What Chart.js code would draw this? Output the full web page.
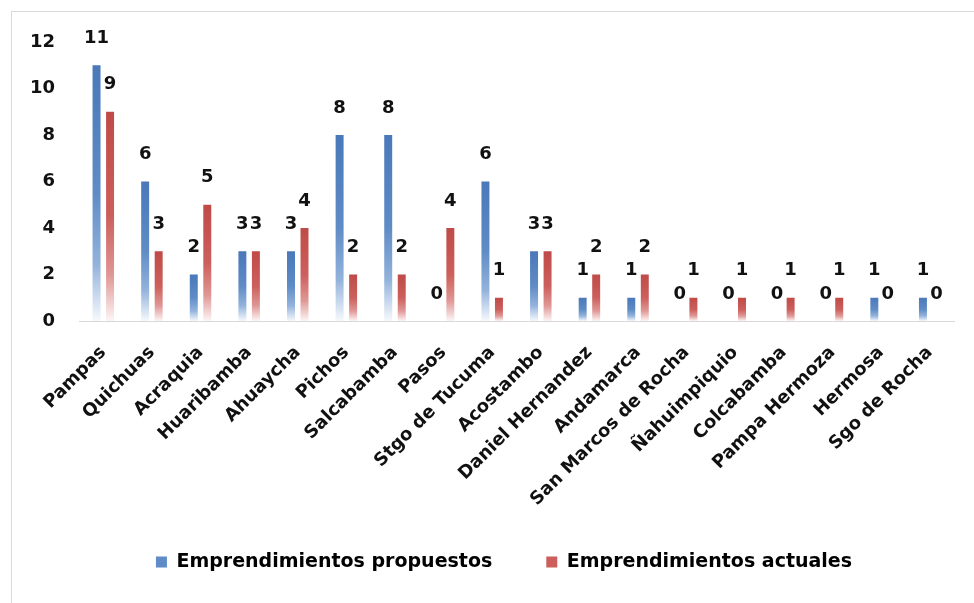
<!DOCTYPE html>
<html>
<head>
<meta charset="utf-8">
<script src="https://cdn.jsdelivr.net/npm/chart.js@4/dist/chart.umd.min.js"></script>
<style>
  html, body { margin: 0; padding: 0; background: #ffffff; }
  #wrap { position: relative; width: 974px; height: 603px; overflow: hidden; }
  #frame { position: absolute; left: 11px; top: 11px; right: -2px; bottom: -2px;
           border-left: 1px solid #d9d9d9; border-top: 1px solid #d9d9d9; }
  canvas { position: absolute; left: 0; top: 0; }
</style>
</head>
<body>
<div id="wrap">
  <div id="frame"></div>
  <canvas id="c" width="974" height="603"></canvas>
</div>
<script>
const categories = ["Pampas", "Quichuas", "Acraquia", "Huaribamba", "Ahuaycha", "Pichos",
  "Salcabamba", "Pasos", "Stgo de Tucuma", "Acostambo", "Daniel Hernandez", "Andamarca",
  "San Marcos de Rocha", "Ñahuimpiquio", "Colcabamba", "Pampa Hermoza", "Hermosa", "Sgo de Rocha"];
const propuestos = [11, 6, 2, 3, 3, 8, 8, 0, 6, 3, 1, 1, 0, 0, 0, 0, 1, 1];
const actuales   = [9, 3, 5, 3, 4, 2, 2, 4, 1, 3, 2, 2, 1, 1, 1, 1, 0, 0];
const seriesNames = ["Emprendimientos propuestos", "Emprendimientos actuales"];
const yMin = 0, yMax = 12, yStep = 2;

const FONT = "'DejaVu Sans', 'Open Sans', sans-serif";

function barGradient(stops) {
  return function(context) {
    const chart = context.chart;
    const {ctx, chartArea, scales} = chart;
    if (!chartArea || context.type !== 'data') return stops[1][1];
    const v = context.raw;
    const yTop = scales.y.getPixelForValue(v);
    const yBot = scales.y.getPixelForValue(0);
    if (!(yBot - yTop > 0.5)) return stops[1][1];
    const g = ctx.createLinearGradient(0, yTop, 0, yBot);
    stops.forEach(s => g.addColorStop(s[0], s[1]));
    return g;
  };
}

const blueStops = [[0, '#4a78b9'], [0.5, '#5f8cc6'], [0.78, '#93b3dc'], [1, '#f6f9fd']];
const redStops  = [[0, '#bf4b48'], [0.5, '#cc5f5c'], [0.78, '#df9795'], [1, '#fdf5f5']];

const valueLabels = {
  id: 'valueLabels',
  afterDatasetsDraw(chart) {
    const ctx = chart.ctx;
    ctx.save();
    ctx.font = "bold 18px " + FONT;
    ctx.fillStyle = '#111111';
    ctx.textAlign = 'center';
    ctx.textBaseline = 'middle';
    chart.data.datasets.forEach((ds, i) => {
      const meta = chart.getDatasetMeta(i);
      meta.data.forEach((bar, j) => {
        ctx.fillText(String(ds.data[j]), bar.x, bar.y - 27);
      });
    });
    ctx.restore();
  }
};

const legendShift = {
  id: 'legendShift',
  afterLayout(chart) {
    const lg = chart.legend;
    if (lg) { lg.left += 12; lg.right += 12; lg.top -= 22.5; lg.bottom = lg.top + 90; }
  }
};

new Chart(document.getElementById('c'), {
  type: 'bar',
  data: {
    labels: categories,
    datasets: [
      { label: seriesNames[0], data: propuestos, backgroundColor: barGradient(blueStops),
        categoryPercentage: 0.556, barPercentage: 0.59 },
      { label: seriesNames[1], data: actuales, backgroundColor: barGradient(redStops),
        categoryPercentage: 0.556, barPercentage: 0.59 }
    ]
  },
  options: {
    responsive: false,
    animation: false,
    layout: { padding: { top: 42, left: 30, right: 20, bottom: 22 } },
    plugins: {
      legend: {
        position: 'bottom',
        maxHeight: 60,
        labels: {
          boxWidth: 11, boxHeight: 11, padding: 54,
          color: '#111111',
          font: { family: FONT, size: 19, weight: 'bold' },
          generateLabels(chart) {
            return chart.data.datasets.map((ds, i) => ({
              text: ds.label,
              fillStyle: i === 0 ? '#5f8cc6' : '#cc5f5c',
              strokeStyle: 'transparent', lineWidth: 0,
              datasetIndex: i, hidden: false
            }));
          }
        }
      },
      tooltip: { enabled: false }
    },
    scales: {
      x: {
        grid: { display: false, drawTicks: false },
        border: { display: true, color: '#d9d9d9', width: 1 },
        ticks: { maxRotation: 45, minRotation: 45, autoSkip: false, padding: 21,
                 color: '#111111', font: { family: FONT, size: 18, weight: 'bold' } },
        afterFit(scale) { scale.height = 200; scale.paddingLeft = 0; scale.paddingRight = 0; }
      },
      y: {
        min: yMin, max: yMax,
        grid: { display: false, drawTicks: false },
        border: { display: false },
        ticks: { stepSize: yStep, padding: 24, color: '#111111',
                 font: { family: FONT, size: 18, weight: 'bold' } },
        afterFit(scale) { scale.width = 49; }
      }
    }
  },
  plugins: [valueLabels, legendShift]
});
</script>
</body>
</html>
